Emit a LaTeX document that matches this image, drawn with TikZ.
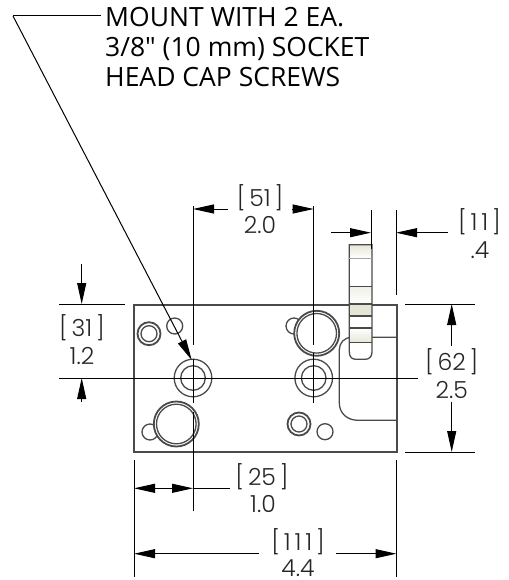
\documentclass[tikz,border=0pt]{standalone}
\usepackage{fontspec}
\usetikzlibrary{arrows.meta}
\newfontfamily\calloutfont{Open Sans}
\newfontfamily\dimfont{Poppins Light}
\definecolor{partline}{HTML}{4A4A4A}
\definecolor{knobfill}{HTML}{E6E6D6}
\tikzset{
  x=1pt,y=-1pt,
  part/.style={draw=partline,line width=1.3pt},
  hole/.style={draw=partline,line width=1.3pt,fill=white},
  thick ring/.style={draw=partline,line width=1.8pt,fill=white},
  dimline/.style={draw=black,line width=1pt},
  tip/.style={dimline,-{Triangle[length=21pt,width=9pt]}},
  dimtext/.style={font=\dimfont\fontsize{23.5}{24}\selectfont,inner sep=0pt,text=black!85},
  callout/.style={font=\calloutfont\fontsize{26.5}{30}\selectfont,inner sep=0pt,anchor=base west,align=left,text=black},
}
\begin{document}
\begin{tikzpicture}
\useasboundingbox (0,0) rectangle (508,580);
% body
\draw[part] (134,305) rectangle (397,452);
\draw[part] (397,337.3) -- (352,337.3) .. controls (344,337.3) and (339.3,343) .. (339.3,350) -- (339.3,403) .. controls (339.3,413) and (347,420.3) .. (358,420.3) -- (397,420.3);
% knob
\fill[white] (349.3,244.7) rectangle (372,352);
\shade[top color=knobfill,bottom color=white] (349.3,244.7) rectangle (372,258.3);
\shade[top color=knobfill!60,bottom color=white] (349.3,286.7) rectangle (372,304);
\fill[knobfill] (349.3,304) rectangle (372,316);
\shade[top color=white,bottom color=knobfill] (349.3,328) rectangle (372,342.7);
\draw[part] (349.3,244.7) -- (372,244.7) -- (372,352) .. controls (372,357) and (369,359.3) .. (365,359.3) -- (356,359.3) .. controls (352,359.3) and (349.3,357) .. (349.3,352) -- cycle;
\draw[draw=black!35,line width=1.2pt] (349.3,258.3) -- (372,258.3);
\foreach \yy in {286.7,304,316,328,342.7} \draw[part] (349.3,\yy) -- (372,\yy);
% small holes
\draw[hole] (174.7,326) circle (8);
\draw[hole] (294,326) circle (8);
\draw[hole] (150,432) circle (8);
\draw[hole] (325,431.7) circle (8);
% ringed holes
\draw[thick ring] (149,333.7) circle (11.5);
\draw[hole] (149,333.7) circle (8);
\draw[thick ring] (299,424) circle (11.5);
\draw[hole] (299,424) circle (8);
% large counterbores
\draw[thick ring] (316.7,333.3) circle (22.5);
\draw[hole] (316.7,333.3) circle (19.8);
\draw[thick ring] (176.3,424) circle (22.5);
\draw[hole] (176.3,424) circle (19.8);
% socket holes
\draw[part] (193,378) circle (18.8);
\draw[part] (193,378) circle (12.3);
\draw[part] (313.7,378) circle (18.8);
\draw[part] (313.7,378) circle (12.3);
% extension and centre lines
\draw[dimline] (193,206) -- (193,345);
\draw[dimline] (193,359) -- (193,403);
\draw[dimline] (193,412) -- (193,511);
\draw[dimline] (313.7,206) -- (313.7,345);
\draw[dimline] (313.7,353) -- (313.7,403);
\draw[dimline] (59,378) -- (417.7,378);
\draw[dimline] (59,304) -- (125,304);
\draw[dimline] (405,304) -- (475,304);
\draw[dimline] (405,452) -- (475,452);
\draw[dimline] (371,210) -- (371,249);
\draw[dimline] (396,210) -- (396,295);
\draw[dimline] (134,460) -- (134,577);
\draw[dimline] (396.5,460) -- (396.5,577);
% dimension arrows
\draw[tip] (228,209) -- (193,209);
\draw[tip] (291.7,209) -- (313.7,209);
\draw[tip] (331,232.7) -- (371,232.7);
\draw[tip] (447.7,232.7) -- (396,232.7);
\draw[tip] (81.7,264) -- (81.7,304);
\draw[tip] (81.7,402) -- (81.7,378);
\draw[tip] (451.7,345.7) -- (451.7,304);
\draw[tip] (451.7,401.7) -- (451.7,452);
\draw[tip] (170,488.3) -- (134,488.3);
\draw[tip] (150,488.3) -- (193,488.3);
\draw[dimline] (193,488.3) -- (230,488.3);
\draw[tip] (259,553.7) -- (134,553.7);
\draw[tip] (336,553.7) -- (396.5,553.7);
% dimension text
\node[dimtext] (d51) at (260,197.5) {[\,51\,]};
\node[dimtext] (d51i) at (260,224.5) {2.0};
\node[dimtext] (d11) at (479.5,221.7) {[\,1\,1\,]};
\node[dimtext] (d11i) at (480,250) {.4};
\node[dimtext] (d31) at (82,328) {[\,31\,]};
\node[dimtext] (d31i) at (82,356) {1.2};
\node[dimtext] (d62) at (451.7,362) {[\,62\,]};
\node[dimtext] (d62i) at (451.7,390) {2.5};
\node[dimtext] (d25) at (262,477) {[\,25\,]};
\node[dimtext] (d25i) at (263,504.5) {1.0};
\node[dimtext] (d111) at (298,542) {[\,1\,1\,1\,]};
\node[dimtext] (d111i) at (298,568.5) {4.4};
% callout
\node[callout] (note) at (105,87) {MOUNT WITH 2 EA.\\3/8" (10 mm) SOCKET\\HEAD CAP SCREWS};
\coordinate (bend) at (13,16);
\coordinate (target) at (191.7,360);
\draw[dimline] (101,16) -- (bend);
\draw[tip] (bend) -- (target);
\end{tikzpicture}
\end{document}
